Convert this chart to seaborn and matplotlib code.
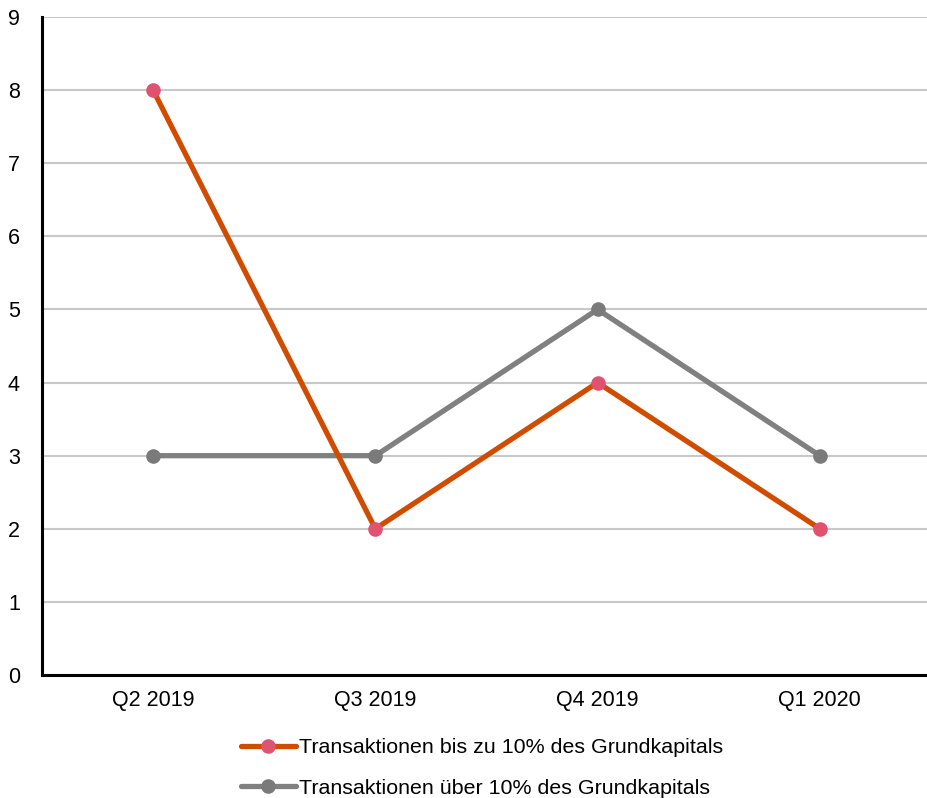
import matplotlib
matplotlib.use("Agg")
import matplotlib.pyplot as plt
import seaborn as sns
import pandas as pd

quarters = ["Q2 2019", "Q3 2019", "Q4 2019", "Q1 2020"]
bis_10 = [8, 2, 4, 2]
ueber_10 = [3, 3, 5, 3]
label_bis = "Transaktionen bis zu 10% des Grundkapitals"
label_ueber = "Transaktionen über 10% des Grundkapitals"
y_ticks = list(range(0, 10))

sns.set_theme(style="white")
plt.rcParams["font.family"] = ["Liberation Sans", "DejaVu Sans"]
plt.rcParams["text.color"] = "#000000"

fig = plt.figure(figsize=(9.27, 7.98), dpi=100)
ax = fig.add_axes([0.0453, 0.1541, 0.959, 0.8246])

df_bis = pd.DataFrame({"q": quarters, "v": bis_10})
df_ueb = pd.DataFrame({"q": quarters, "v": ueber_10})

for yv in y_ticks[1:]:
    ax.axhline(yv, color="#c8c8c8", lw=1.5, zorder=0)

sns.lineplot(data=df_bis, x="q", y="v", ax=ax, color="#d04c00", lw=3.8,
             marker="o", markersize=10.5, markerfacecolor="#df5270",
             markeredgecolor="#df5270", markeredgewidth=0, label=label_bis,
             sort=False, zorder=3)
sns.lineplot(data=df_ueb, x="q", y="v", ax=ax, color="#808080", lw=3.8,
             marker="o", markersize=10.5, markerfacecolor="#7a7a7a",
             markeredgecolor="#7a7a7a", markeredgewidth=0, label=label_ueber,
             sort=False, zorder=2)

ax.set_xlim(-0.5, 3.5)
ax.set_ylim(0, 9)
ax.set_yticks(y_ticks)
ax.set_xlabel("")
ax.set_ylabel("")
ax.tick_params(axis="both", length=0, labelsize=15.5, colors="#000000")
ax.tick_params(axis="y", pad=16)
ax.tick_params(axis="x", pad=11)
for s in ["top", "right"]:
    ax.spines[s].set_visible(False)
for s in ["left", "bottom"]:
    ax.spines[s].set_color("#000000")
    ax.spines[s].set_linewidth(2.2)
ax.grid(False)

handles, labels = ax.get_legend_handles_labels()
leg = ax.legend(handles, labels, loc="center", bbox_to_anchor=(0.520, 0.0375),
                bbox_transform=fig.transFigure, frameon=False, fontsize=15.4,
                handlelength=2.55, handletextpad=0.15, labelspacing=1.0,
                borderpad=0)
for t in leg.get_texts():
    t.set_color("#000000")

fig.savefig("out.png", dpi=100, facecolor="white")
